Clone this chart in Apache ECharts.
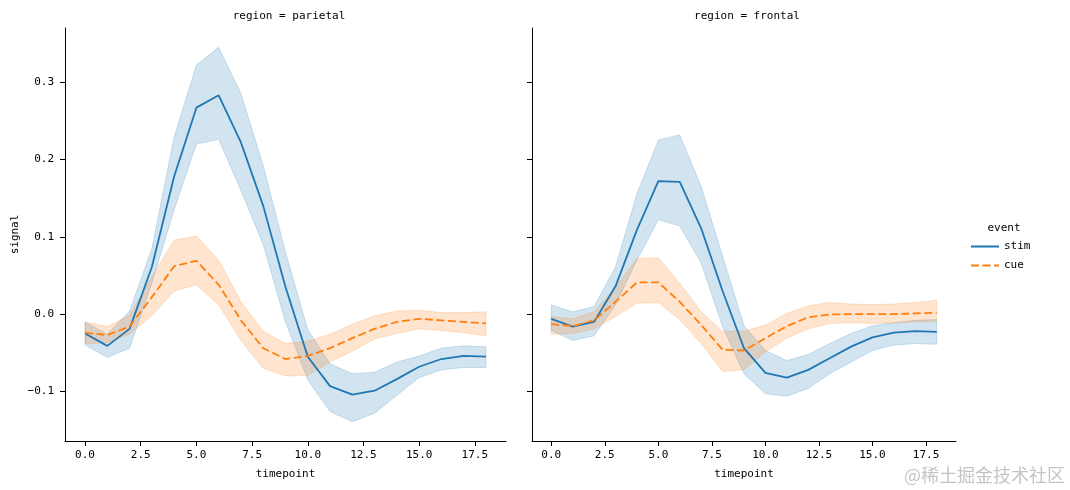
<!DOCTYPE html>
<html>
<head>
<meta charset="utf-8">
<script src="https://cdn.jsdelivr.net/npm/echarts@6/dist/echarts.min.js"></script>
<style>html,body{margin:0;padding:0;background:#fff}#c{width:1070px;height:490px}</style>
</head>
<body>
<div id="c"></div>
<script>
const timepoints = [0,1,2,3,4,5,6,7,8,9,10,11,12,13,14,15,16,17,18];
const regions = ['parietal', 'frontal'];
const events = ['stim', 'cue'];
const xTicks = [0, 2.5, 5, 7.5, 10, 12.5, 15, 17.5];
const yTicks = [-0.1, 0, 0.1, 0.2, 0.3];

// parietal
const parietalStimMean = [-0.025,-0.041,-0.019,0.061,0.178,0.267,0.283,0.222,0.140,0.035,-0.055,-0.093,-0.104,-0.099,-0.084,-0.068,-0.058,-0.054,-0.055];
const parietalStimLo   = [-0.040,-0.056,-0.044,0.040,0.135,0.220,0.226,0.160,0.090,-0.010,-0.085,-0.126,-0.139,-0.128,-0.105,-0.082,-0.072,-0.069,-0.069];
const parietalStimHi   = [-0.010,-0.026,0.004,0.085,0.229,0.322,0.345,0.285,0.192,0.080,-0.020,-0.064,-0.077,-0.075,-0.062,-0.054,-0.044,-0.041,-0.042];
const parietalCueMean  = [-0.024,-0.027,-0.016,0.022,0.062,0.069,0.038,-0.008,-0.044,-0.058,-0.054,-0.044,-0.031,-0.019,-0.010,-0.006,-0.008,-0.010,-0.012];
const parietalCueLo    = [-0.038,-0.037,-0.026,-0.002,0.030,0.038,0.012,-0.034,-0.070,-0.080,-0.079,-0.062,-0.048,-0.032,-0.025,-0.019,-0.021,-0.024,-0.028];
const parietalCueHi    = [-0.010,-0.016,-0.001,0.048,0.096,0.101,0.070,0.016,-0.022,-0.038,-0.035,-0.026,-0.013,-0.002,0.004,0.005,0.002,0.002,0.003];
// frontal
const frontalStimMean = [-0.006,-0.016,-0.010,0.036,0.109,0.172,0.171,0.111,0.030,-0.044,-0.076,-0.082,-0.072,-0.057,-0.042,-0.030,-0.024,-0.022,-0.023];
const frontalStimLo   = [-0.021,-0.034,-0.028,0.012,0.070,0.122,0.114,0.066,-0.016,-0.077,-0.103,-0.106,-0.096,-0.077,-0.062,-0.047,-0.040,-0.038,-0.039];
const frontalStimHi   = [0.012,0.003,0.010,0.061,0.156,0.225,0.232,0.165,0.075,-0.015,-0.047,-0.060,-0.052,-0.038,-0.025,-0.015,-0.011,-0.008,-0.007];
const frontalCueMean  = [-0.013,-0.0155,-0.008,0.016,0.041,0.041,0.016,-0.014,-0.046,-0.047,-0.031,-0.0155,-0.004,-0.0004,0,0,0,0.001,0.002];
const frontalCueLo    = [-0.026,-0.025,-0.019,-0.003,0.014,0.015,-0.007,-0.038,-0.074,-0.072,-0.049,-0.031,-0.019,-0.012,-0.011,-0.012,-0.011,-0.010,-0.009];
const frontalCueHi    = [-0.003,-0.006,0.003,0.035,0.072,0.073,0.040,0.003,-0.022,-0.022,-0.014,0.001,0.011,0.015,0.013,0.0125,0.013,0.015,0.018];

const FONT = 'DejaVu Sans Mono';
const C_STIM = '#1f77b4', C_CUE = '#ff7f0e';

function fmtX(v){ return Number(v).toFixed(1); }
function fmtY(v){ const s = Number(v).toFixed(1); return v < 0 ? '\u2212' + s.slice(1) : s; }

function xAxis(gi){
  return {
    type:'value', gridIndex:gi, min:-0.9, max:18.9,
    name:'timepoint', nameLocation:'middle', nameGap:28,
    nameTextStyle:{fontFamily:FONT, fontSize:11, color:'#000'},
    axisLine:{show:true, onZero:false, lineStyle:{color:'#000', width:1}},
    axisTick:{show:true, length:5, lineStyle:{color:'#000'}, customValues:xTicks},
    axisLabel:{fontFamily:FONT, fontSize:11, color:'#000', margin:9, customValues:xTicks, formatter:fmtX},
    splitLine:{show:false}
  };
}
function yAxis(gi, labels){
  return {
    type:'value', gridIndex:gi, min:-0.164, max:0.37,
    name: labels ? 'signal' : '', nameLocation:'middle', nameGap:44,
    nameTextStyle:{fontFamily:FONT, fontSize:11, color:'#000'},
    axisLine:{show:true, onZero:false, lineStyle:{color:'#000', width:1}},
    axisTick:{show:true, length:5, lineStyle:{color:'#000'}, customValues:yTicks},
    axisLabel:{show:labels, fontFamily:FONT, fontSize:11, color:'#000', margin:11, customValues:yTicks, formatter:fmtY},
    splitLine:{show:false}
  };
}

function band(gi, lo, hi, rgb){
  return {
    type:'custom', xAxisIndex:gi, yAxisIndex:gi, silent:true, z:1, clip:true,
    data: timepoints.map((t,i)=>[t, lo[i], hi[i]]),
    encode:{x:0, y:[1,2]},
    renderItem:function(params, api){
      if (params.dataIndex !== 0) return null;
      const pts = [];
      for (let i=0;i<timepoints.length;i++) pts.push(api.coord([timepoints[i], hi[i]]));
      for (let i=timepoints.length-1;i>=0;i--) pts.push(api.coord([timepoints[i], lo[i]]));
      return {type:'polygon', shape:{points:pts},
        style:{fill:'rgba('+rgb+',0.2)', stroke:'rgba('+rgb+',0.2)', lineWidth:1}};
    }
  };
}
function line(gi, name, mean, color, dashed){
  return {
    type:'line', name:name, xAxisIndex:gi, yAxisIndex:gi, z:3,
    data: timepoints.map((t,i)=>[t, mean[i]]),
    symbol:'none', showSymbol:false, animation:false,
    lineStyle:{color:color, width:1.8, type: dashed ? [8,3.5] : 'solid'},
    itemStyle:{color:color}
  };
}

const chart = echarts.init(document.getElementById('c'), null, {renderer:'canvas'});
chart.setOption({
  backgroundColor:'#fff',
  animation:false,
  grid:[
    {left:65, top:28, width:441, height:413},
    {left:532, top:28, width:424, height:413}
  ],
  title:[
    {text:'region = ' + regions[0], left:284, top:6, textAlign:'center',
     textStyle:{fontFamily:FONT, fontSize:11, fontWeight:'normal', color:'#000'}},
    {text:'region = ' + regions[1], left:742, top:6, textAlign:'center',
     textStyle:{fontFamily:FONT, fontSize:11, fontWeight:'normal', color:'#000'}},
    {text:'event', left:999, top:218, textAlign:'center',
     textStyle:{fontFamily:FONT, fontSize:11, fontWeight:'normal', color:'#000'}}
  ],
  legend:{
    data: events, orient:'vertical', left:965, top:236, itemWidth:28, itemHeight:10, itemGap:8,
    itemStyle:{opacity:0},
    textStyle:{fontFamily:FONT, fontSize:11, color:'#000'}, selectedMode:false
  },
  xAxis:[xAxis(0), xAxis(1)],
  yAxis:[yAxis(0,true), yAxis(1,false)],
  series:[
    band(0, parietalStimLo, parietalStimHi, '31,119,180'),
    band(0, parietalCueLo, parietalCueHi, '255,127,14'),
    line(0, events[0], parietalStimMean, C_STIM, false),
    line(0, events[1], parietalCueMean, C_CUE, true),
    band(1, frontalStimLo, frontalStimHi, '31,119,180'),
    band(1, frontalCueLo, frontalCueHi, '255,127,14'),
    line(1, events[0], frontalStimMean, C_STIM, false),
    line(1, events[1], frontalCueMean, C_CUE, true)
  ],
  graphic:[
    {type:'text', right:5, bottom:6, style:{text:'@稀土掘金技术社区', fill:'rgba(190,190,190,0.9)',
      font:'18px "Noto Sans CJK SC"'}}
  ]
});
</script>
</body>
</html>
